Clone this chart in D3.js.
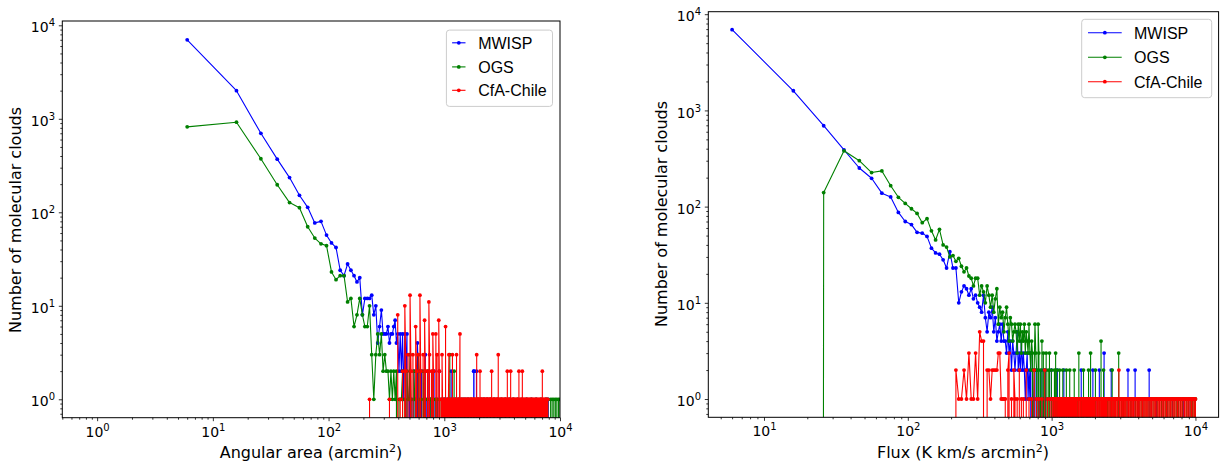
<!DOCTYPE html>
<html><head><meta charset="utf-8">
<script src="https://cdn.jsdelivr.net/npm/d3@7"></script>
<style>body{margin:0;background:#fff} svg{display:block}</style>
</head><body>
<svg id="c" width="1226" height="466"></svg>
<script>
// ---------------- data ----------------
const seriesNames = ["MWISP", "OGS", "CfA-Chile"];
const seriesColors = ["#0000ff", "#008000", "#ff0000"];
const binWidth = 10;            // histogram bins centred at 6, 16, 26 ... 9996
const firstBin = 6, lastBin = 9996;
// Each series: [bin centre, number of clouds]; bins not listed hold zero clouds.

const areaTicks = [1, 10, 100, 1000, 10000];
const fluxTicks = [10, 100, 1000, 10000];
const countTicks = [1, 10, 100, 1000, 10000];

// ---- Angular area (arcmin^2) ----
const areaMwisp = [[6,7000],[16,2000],[26,700],[36,370],[46,235],[56,152],[66,113],[76,77],[86,80],[96,57],[106,47],[116,42],[126,24],[136,21],[146,28],[156,24],[166,21],[176,18],[186,20],[196,8],[206,12],[216,12],[226,12],[236,13],[246,8],[256,10],[266,4],[276,6],[286,9],[296,5],[306,5],[316,5],[326,6],[336,4],[346,5],[356,5],[366,6],[376,7],[386,4],[396,5],[406,2],[416,5],[426,2],[436,5],[446,1],[456,5],[466,2],[476,5],[496,1],[506,2],[526,1],[546,2],[566,1],[586,4],[596,2],[616,1],[636,2],[666,1],[686,3],[706,1],[736,2],[756,1],[786,1],[816,2],[846,1],[876,1],[906,2],[946,1],[986,1],[1016,1],[1056,1],[1106,1],[1146,2],[1196,1],[1256,1],[1316,1],[1386,1],[1456,1],[1536,1],[1616,1],[1716,1],[1796,2],[1806,2],[1896,2],[1966,1],[2086,1],[2216,1],[2356,1],[2506,1],[2686,1],[2886,1],[3106,1],[3356,1],[3636,1],[3946,1],[4306,1],[4706,1],[5156,1],[5666,1],[6236,1],[6886,1],[7586,1],[7916,1]];

const areaOgs = [[6,820],[16,920],[26,374],[36,197],[46,127],[56,112],[66,70],[76,53],[86,46],[96,44],[106,23],[116,19],[126,21],[136,21],[146,11],[156,12],[166,6],[176,8],[186,12],[196,8],[206,6],[216,6],[226,10],[236,3],[246,1],[256,3],[266,5],[276,3],[286,5],[296,2],[306,3],[316,2],[326,2],[336,1],[346,2],[356,1],[366,2],[376,1],[386,2],[406,1],[416,1],[426,1],[436,2],[456,1],[476,2],[486,1],[496,1],[506,3],[516,1],[546,2],[556,1],[566,1],[596,3],[606,2],[626,1],[656,2],[666,1],[686,1],[716,2],[746,1],[756,1],[766,1],[796,2],[836,1],[866,1],[916,1],[956,1],[1006,1],[1076,1],[1116,3],[1156,1],[1216,2],[1256,1],[1336,1],[1416,1],[1496,1],[1596,1],[1696,1],[1806,1],[1926,1],[2046,1],[2186,1],[2336,1],[2506,1],[2696,1],[2906,1],[3136,1],[3386,1],[3666,1],[3976,1],[4326,1],[4716,1],[5156,1],[5656,1],[6216,1],[6846,1],[7556,1],[7846,1],[8296,1],[8556,1],[8836,1],[9116,1],[9386,1],[9696,1],[9996,1]];

const areaCfa = [[226,1],[336,1],[396,8],[416,1],[436,2],[456,10],[466,2],[486,3],[506,13],[516,2],[536,3],[566,6],[576,2],[596,3],[616,13],[626,2],[656,3],[676,7],[686,2],[716,2],[736,11],[746,3],[776,2],[796,5],[806,2],[846,5],[866,3],[896,7],[906,2],[936,1],[956,3],[966,1],[986,1],
[1006,1],[1026,6],[1046,1],[1066,1],[1086,1],[1096,3],[1116,1],[1136,1],[1156,1],[1176,3],[1196,1],[1216,1],[1236,1],[1256,1],[1276,3],[1296,1],[1316,1],[1336,1],[1356,1],[1366,5],[1386,1],[1406,1],[1426,1],[1446,1],[1466,1],[1486,1],[1506,1],[1526,1],[1546,1],[1566,1],[1586,1],[1606,1],[1626,1],[1646,1],[1666,1],[1686,1],[1706,1],[1726,1],[1746,1],[1766,1],[1786,1],[1816,1],[1836,1],[1856,1],[1876,1],[1906,3],[1926,1],[1946,1],[1966,1],[1986,1],[2006,1],[2036,2],[2056,1],[2076,1],[2096,1],[2116,1],[2136,1],[2156,1],[2186,1],[2206,1],[2226,1],[2246,1],[2276,1],[2296,1],[2316,1],[2346,1],[2366,1],[2386,1],[2416,1],[2436,1],[2466,1],[2486,1],[2516,1],[2536,1],[2566,2],[2596,1],[2626,1],[2656,1],[2686,1],[2716,1],[2746,1],[2776,1],[2806,1],[2836,1],[2866,1],[2896,1],[2926,3],[2966,1],[2996,1],[3036,1],[3066,1],[3106,1],[3146,1],[3186,1],[3226,1],[3266,1],[3306,1],[3346,1],[3386,1],[3426,1],[3466,1],[3506,2],[3546,1],[3596,1],[3646,1],[3696,1],[3746,2],[3796,1],[3846,1],[3896,1],[3946,1],[3996,1],[4056,1],[4116,1],[4176,1],[4236,1],[4296,1],[4356,1],[4416,2],[4476,1],[4536,1],[4596,1],[4666,1],[4726,2],[4796,1],[4866,1],[4936,1],[5006,1],[5076,1],[5156,1],[5236,1],[5316,1],[5396,1],[5476,1],[5556,1],[5636,1],[5726,1],[5816,1],[5906,1],[5996,1],[6096,1],[6196,1],[6296,1],[6396,1],[6496,1],[6606,1],[6716,1],[6826,1],[6936,1],[7036,2],[7146,1],[7256,1],[7366,1],[7476,1],[7586,1],[7706,1],[7836,1]];

// ---- Flux (K km/s arcmin^2) ----
const fluxMwisp = [[6,6900],[16,1600],[26,693],[36,388],[46,252],[56,197],[66,138],[76,126],[86,87],[96,70],[106,65],[116,54],[126,53],[136,49],[146,37],[156,33],[166,32],[176,28],[186,23],[196,34],[206,23],[216,23],[226,10],[236,13],[246,15],[256,14],[266,12],[276,14],[286,11],[296,12],[306,10],[316,9],[326,8],[336,12],[346,7],[356,5],[366,8],[376,7],[386,9],[396,5],[406,7],[416,4],[426,5],[436,6],[446,4],[456,6],[466,4],[476,4],[486,3],[496,5],[506,3],[516,4],[526,2],[536,4],[546,3],[556,2],[566,3],[576,5],[586,2],[596,3],[606,2],[616,4],[626,2],[636,3],[646,2],[656,1],[666,2],[676,3],[686,1],[696,2],[706,1],[716,3],[736,2],[746,1],[766,2],[786,1],[806,2],[826,1],[856,2],[876,1],[906,2],[936,1],[966,1],[996,2],[1026,1],[1056,1],[1096,2],[1136,1],[1176,1],[1216,2],[1256,1],[1306,1],[1356,1],[1406,1],[1466,1],[1536,1],[1606,2],[1676,1],[1756,1],[1846,1],[1936,2],[2036,1],[2146,2],[2256,1],[2316,3],[2436,1],[2596,2],[2756,1],[2936,1],[3136,1],[3396,2],[3566,1],[3806,2],[4026,1],[4306,1],[4766,2],[4936,1],[5356,1],[5836,1],[6356,1],[6926,1],[7556,1],[8236,1],[8996,1]];

const fluxOgs = [[26,140],[36,380],[46,300],[56,226],[66,235],[76,165],[86,125],[96,108],[106,95],[116,85],[126,68],[136,75],[146,56],[156,45],[166,58],[176,40],[186,38],[196,30],[206,31],[216,27],[226,29],[236,24],[246,21],[256,23],[266,19],[276,18],[286,15],[296,18],[306,18],[316,12],[326,15],[336,13],[346,10],[356,15],[366,12],[376,9],[386,12],[396,8],[406,11],[416,14],[426,6],[436,9],[446,7],[456,8],[466,5],[476,7],[486,9],[496,6],[506,4],[516,7],[526,6],[536,4],[546,5],[556,6],[566,5],[576,3],[586,6],[596,4],[606,6],[616,3],[626,5],[636,4],[646,6],[656,3],[666,5],[676,4],[686,3],[696,6],[706,3],[716,2],[726,4],[736,3],[756,2],[766,6],[776,3],[786,2],[806,6],[816,3],[836,2],[856,4],[876,3],[896,2],[916,3],[946,2],[966,3],[996,2],[1026,1],[1046,2],[1066,3],[1086,2],[1106,1],[1136,2],[1166,1],[1196,2],[1226,1],[1266,2],[1306,1],[1336,2],[1376,1],[1406,1],[1436,2],[1486,1],[1516,1],[1546,3],[1606,1],[1636,1],[1666,2],[1736,1],[1776,1],[1806,2],[1866,3],[1936,1],[1976,1],[2016,2],[2096,1],[2146,1],[2206,4],[2296,2],[2386,1],[2446,1],[2506,1],[2576,1],[2636,2],[2706,1],[2776,1],[2856,1],[2926,3],[3066,1],[3156,1],[3236,1],[3336,1],[3426,1],[3526,1],[3616,1],[3726,1],[3836,1],[3956,1],[4066,1],[4196,1],[4316,1],[4456,1],[4606,1],[4756,1],[4906,1],[5076,1],[5246,1],[5426,1],[5616,1],[5806,1],[6006,1],[6216,1],[6426,1],[6646,1],[6876,1],[7116,1],[7356,1],[7606,1],[7866,1],[8136,1],[8406,1],[8696,1],[8976,1],[9276,1],[9556,1],[9806,1],[9996,1]];

const fluxCfa = [[216,2],[226,1],[236,1],[246,2],[256,1],[266,3],[276,1],[286,1],[296,3],[306,1],[316,5],[326,4],[336,4],[356,2],[366,2],[376,1],[386,2],[396,2],[406,2],[416,2],[426,3],[436,3],[446,1],[456,1],[466,1],[476,1],[496,2],[506,3],[526,1],[546,2],[556,1],[576,1],[596,2],[616,1],[636,1],[666,2],[696,1],[726,1],[756,2],[786,1],[816,1],[856,1],[896,2],[936,1],[976,1],
[1006,1],[1026,1],[1046,1],[1066,1],[1086,1],[1106,1],[1126,1],[1146,1],[1156,1],[1176,1],[1196,1],[1216,1],[1236,1],[1256,1],[1276,1],[1296,1],[1316,1],[1336,1],[1356,1],[1376,1],[1396,1],[1416,1],[1436,1],[1456,1],[1466,1],[1486,1],[1506,1],[1536,1],[1556,1],[1586,1],[1606,1],[1636,1],[1656,1],[1686,1],[1716,1],[1746,1],[1766,1],[1796,1],[1826,1],[1856,1],[1886,1],[1916,1],[1946,1],[1976,1],[2006,1],[2046,1],[2086,1],[2126,1],[2166,1],[2206,1],[2246,1],[2286,1],[2326,1],[2366,1],[2406,1],[2456,1],[2506,1],[2556,1],[2606,1],[2656,1],[2706,1],[2756,1],[2806,1],[2866,1],[2936,2],[2986,1],[3046,1],[3106,1],[3166,1],[3226,1],[3286,1],[3356,1],[3426,1],[3496,1],[3566,1],[3636,1],[3706,1],[3786,1],[3866,1],[3946,1],[4026,1],[4106,1],[4196,1],[4286,1],[4376,1],[4466,1],[4556,1],[4656,1],[4756,1],[4856,1],[4956,1],[5066,1],[5176,1],[5286,1],[5396,1],[5516,1],[5636,1],[5756,1],[5886,1],[6016,1],[6146,1],[6286,1],[6426,1],[6566,1],[6716,1],[6866,1],[7016,1],[7176,1],[7336,1],[7506,1],[7676,1],[7846,1],[8026,1],[8206,1],[8396,1],[8586,1],[8776,1],[8976,1],[9176,1],[9386,1],[9596,1],[9806,1],[9996,1]];

// ---------------- layout ----------------
const panels = [
  {
    frame: {l: 62.3, r: 560, t: 21, b: 417.7},
    xDom: [0.5, 1e4], yDom: [Math.pow(10, -0.197), Math.pow(10, 4.046)],
    xMajor: areaTicks, yMajor: countTicks,
    series: [areaMwisp, areaOgs, areaCfa],
    xlabel: ["Angular area (arcmin", "2", ")"], xlabelPos: [311, 458],
    ylabelPos: [21.3, 220],
    legend: {x: 446.4, y: 30.1, w: 106.1, h: 76.3, h0: 452.1, h1: 465.5, tx: 478.2, rows: [42.8, 66.9, 90.3]}
  },
  {
    frame: {l: 708.3, r: 1218.6, t: 11.7, b: 417.3},
    xDom: [Math.pow(10, 0.6127), Math.pow(10, 4.161)], yDom: [Math.pow(10, -0.190), Math.pow(10, 4.026)],
    xMajor: fluxTicks, yMajor: countTicks,
    series: [fluxMwisp, fluxOgs, fluxCfa],
    xlabel: ["Flux (K km/s arcmin", "2", ")"], xlabelPos: [963, 457.5],
    ylabelPos: [666.8, 214],
    legend: {x: 1081.7, y: 19.3, w: 130, h: 78.4, h0: 1088, h1: 1121.7, tx: 1134, rows: [32.7, 57.3, 81.7]}
  }
];

const svg = d3.select("#c");
const tickFont = "'DejaVu Sans', sans-serif";

// histogram line: empty bins drop to zero (clipped far below the log axis)
function buildLine(pairs) {
  const pts = [];
  pairs.forEach((d, i) => {
    const xv = d[0];
    if (i === 0) {
      if (xv - binWidth >= firstBin) pts.push([xv - binWidth, 0]);
    } else {
      const prev = pairs[i - 1][0];
      if (xv - prev > binWidth) {
        pts.push([prev + binWidth, 0]);
        if (xv - prev > 2 * binWidth) pts.push([xv - binWidth, 0]);
      }
    }
    pts.push(d);
  });
  const last = pairs[pairs.length - 1][0];
  if (last + binWidth <= lastBin) pts.push([last + binWidth, 0]);
  return pts;
}

panels.forEach((p, pi) => {
  const f = p.frame;
  const x = d3.scaleLog().domain(p.xDom).range([f.l, f.r]);
  const y = d3.scaleLog().domain(p.yDom).range([f.b, f.t]);
  const yv = v => v > 0 ? y(v) : y(1e-300);

  const clipId = "clip" + pi;
  svg.append("clipPath").attr("id", clipId).append("rect")
    .attr("x", f.l).attr("y", f.t).attr("width", f.r - f.l).attr("height", f.b - f.t);

  const plot = svg.append("g").attr("clip-path", `url(#${clipId})`);
  const line = d3.line().x(d => x(d[0])).y(d => yv(d[1]));

  p.series.forEach((s, si) => {
    plot.append("path").datum(buildLine(s)).attr("d", line)
      .attr("fill", "none").attr("stroke", seriesColors[si]).attr("stroke-width", 1.1)
      .attr("stroke-linejoin", "round");
    plot.append("g").selectAll("circle").data(s)
      .join("circle").attr("cx", d => x(d[0])).attr("cy", d => yv(d[1])).attr("r", 1.9)
      .attr("fill", seriesColors[si]);
  });

  // axes
  const isMajor = v => Math.abs(Math.log10(v) - Math.round(Math.log10(v))) < 1e-9;
  const xMinor = x.ticks().filter(v => !isMajor(v));
  const yMinor = y.ticks().filter(v => !isMajor(v));
  const axStyle = g => { g.select(".domain").remove(); g.attr("color", "#000"); g.selectAll("line").attr("stroke-width", 0.8); };

  svg.append("g").attr("transform", `translate(0,${f.b})`)
    .call(d3.axisBottom(x).tickValues(xMinor).tickSize(2).tickFormat("")).call(axStyle);
  svg.append("g").attr("transform", `translate(${f.l},0)`)
    .call(d3.axisLeft(y).tickValues(yMinor).tickSize(2).tickFormat("")).call(axStyle);

  const powText = function(d) {
    const t = d3.select(this); t.text(null);
    t.append("tspan").text("10");
    t.append("tspan").attr("dy", -6).attr("font-size", 10).text(Math.round(Math.log10(d)));
  };

  const gx = svg.append("g").attr("transform", `translate(0,${f.b})`)
    .call(d3.axisBottom(x).tickValues(p.xMajor).tickSize(3.5).tickFormat("")).call(axStyle);
  gx.attr("font-family", tickFont).attr("font-size", 14);
  gx.selectAll(".tick text").attr("y", 19).attr("dy", null).attr("fill", "#000").each(powText);

  const gy = svg.append("g").attr("transform", `translate(${f.l},0)`)
    .call(d3.axisLeft(y).tickValues(p.yMajor).tickSize(3.5).tickFormat("")).call(axStyle);
  gy.attr("font-family", tickFont).attr("font-size", 14);
  gy.selectAll(".tick text").attr("x", -7.3).attr("y", 6.6).attr("dy", null).attr("fill", "#000").each(powText);

  // frame
  svg.append("rect").attr("x", f.l).attr("y", f.t).attr("width", f.r - f.l).attr("height", f.b - f.t)
    .attr("fill", "none").attr("stroke", "#000").attr("stroke-width", 1);

  // axis labels
  const xl = svg.append("text").attr("x", p.xlabelPos[0]).attr("y", p.xlabelPos[1])
    .attr("text-anchor", "middle").attr("font-family", tickFont).attr("font-size", 16).attr("fill", "#000");
  xl.append("tspan").text(p.xlabel[0]);
  xl.append("tspan").attr("dy", -6).attr("font-size", 11).text(p.xlabel[1]);
  xl.append("tspan").attr("dy", 6).text(p.xlabel[2]);

  svg.append("text").attr("transform", `translate(${p.ylabelPos[0]},${p.ylabelPos[1]}) rotate(-90)`)
    .attr("text-anchor", "middle").attr("font-family", tickFont).attr("font-size", 16).attr("fill", "#000")
    .text("Number of molecular clouds");

  // legend
  const L = p.legend;
  const lg = svg.append("g");
  lg.append("rect").attr("x", L.x).attr("y", L.y).attr("width", L.w).attr("height", L.h).attr("rx", 3)
    .attr("fill", "#fff").attr("fill-opacity", 0.8).attr("stroke", "#cccccc").attr("stroke-width", 1);
  seriesNames.forEach((name, i) => {
    const cy = L.rows[i];
    lg.append("line").attr("x1", L.h0).attr("x2", L.h1).attr("y1", cy).attr("y2", cy)
      .attr("stroke", seriesColors[i]).attr("stroke-width", 1.1);
    lg.append("circle").attr("cx", (L.h0 + L.h1) / 2).attr("cy", cy).attr("r", 1.9).attr("fill", seriesColors[i]);
    lg.append("text").attr("x", L.tx).attr("y", cy + 5.8).attr("font-family", "'Liberation Sans', Arial, sans-serif")
      .attr("font-size", 16).attr("fill", "#000").text(name);
  });
});
</script>
</body></html>
